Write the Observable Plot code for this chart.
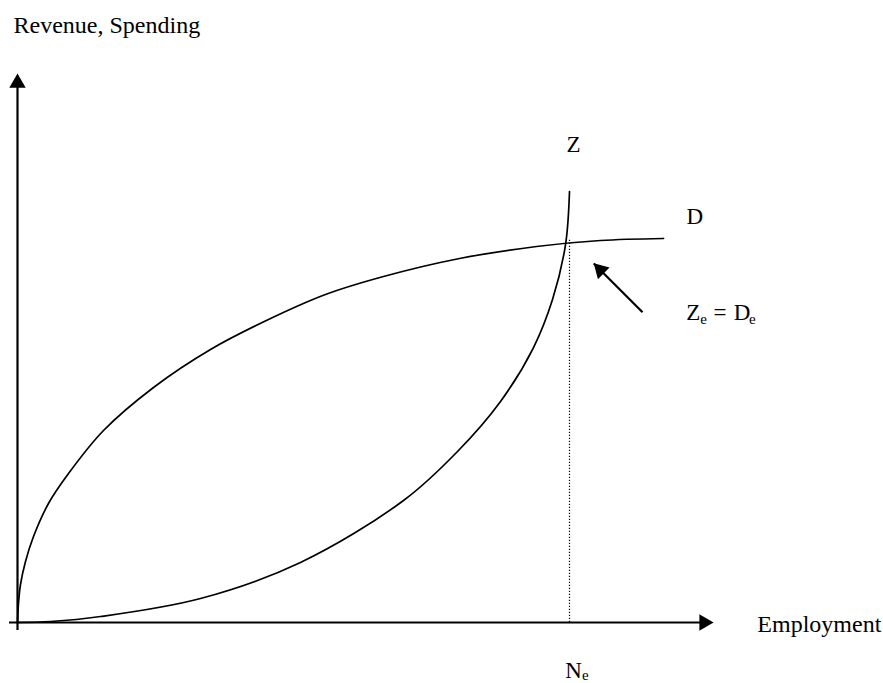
<!DOCTYPE html>
<html>
<head>
<meta charset="utf-8">
<script src="https://cdn.jsdelivr.net/npm/d3@7"></script>
<script src="https://cdn.jsdelivr.net/npm/@observablehq/plot@0.6"></script>
<style>
  html, body { margin: 0; padding: 0; background: #fff; }
  #chart svg { display: block; }
</style>
</head>
<body>
<div id="chart"></div>
<script>
// Aggregate demand curve D (employment, spending)
const dEmployment = [0, 0.14, 0.43, 1.15, 2.30, 4.45, 7.33, 12.36, 19.54, 27.73, 36.06, 44.25, 52.59, 63.51, 74.57, 83.76, 92.82];
const dSpending   = [0, 3.46, 6.92, 11.11, 15.66, 21.68, 27.14, 34.97, 42.81, 49.73, 55.19, 59.74, 63.02, 66.30, 68.49, 69.58, 69.95];

// Aggregate supply curve Z (employment, revenue)
const zEmployment = [0, 4.74, 11.93, 26.29, 40.66, 55.46, 63.22, 69.40, 74.14, 76.87, 78.74, 79.31];
const zRevenue    = [0, 0.18, 1.09, 4.37, 10.93, 22.22, 31.15, 40.26, 50.09, 58.83, 68.85, 78.51];

// Equilibrium employment N_e and the top of its guide line
const equilibriumN = [79.31];
const equilibriumTop = [69.95];

// Axis ends (arrow tips)
const axisMax = [100];

// Annotation arrow (tail -> tip)
const pointerTail = [89.8, 56.5];
const pointerTip  = [82.8, 65.4];

// Plain text labels
const labelText = ["Revenue, Spending", "Employment"];
const labelX    = [-0.57, 106.3];
const labelY    = [108.7, -0.42];

// Curve name labels
const curveText = ["Z", "D"];
const curveX    = [79.9, 97.3];
const curveY    = [87.0, 74.0];

// Labels with subscripts: main parts + subscripts
const subMainText = ["Z", "=", "D", "N"];
const subMainX    = [96.1, 100.0, 102.9, 78.7];
const subMainY    = [56.4, 56.4, 56.4, -8.8];
const subText     = ["e", "e", "e"];
const subX        = [98.1, 105.1, 81.1];
const subY        = [55.2, 55.2, -9.6];

const dData = dEmployment.map((x, i) => ({x, y: dSpending[i]}));
const zData = zEmployment.map((x, i) => ({x, y: zRevenue[i]}));
const labels = labelText.map((t, i) => ({t, x: labelX[i], y: labelY[i]}));
const curveLabels = curveText.map((t, i) => ({t, x: curveX[i], y: curveY[i]}));
const mains = subMainText.map((t, i) => ({t, x: subMainX[i], y: subMainY[i]}));
const subs = subText.map((t, i) => ({t, x: subX[i], y: subY[i]}));

const font = "'Liberation Serif', 'Times New Roman', serif";

const chart = Plot.plot({
  width: 883,
  height: 683,
  marginLeft: 17,
  marginRight: 170,
  marginTop: 73,
  marginBottom: 61,
  style: {fontFamily: font, background: "#fff", color: "#000", overflow: "visible"},
  x: {domain: [0, 100], axis: null},
  y: {domain: [0, 100], axis: null},
  marks: [
    // axes
    Plot.ruleY([0], {x1: 0, x2: axisMax[0], stroke: "#000", strokeWidth: 2.2, dx: -8}),
    Plot.ruleX([0], {y1: 0, y2: axisMax[0], stroke: "#000", strokeWidth: 2.2, dy: 8}),
    Plot.dot([{x: axisMax[0], y: 0}], {x: "x", y: "y", symbol: "triangle", r: 6.1, rotate: 90, dx: -9.4, fill: "#000", stroke: "none"}),
    Plot.dot([{x: 0, y: axisMax[0]}], {x: "x", y: "y", symbol: "triangle", r: 6.1, rotate: 0, dy: 9.4, fill: "#000", stroke: "none"}),
    // equilibrium guide
    Plot.ruleX(equilibriumN, {y1: 0, y2: equilibriumTop[0], stroke: "#000", strokeWidth: 1.2, strokeDasharray: "1.2,1.8"}),
    // curves
    Plot.line(dData, {x: "x", y: "y", curve: "catmull-rom", stroke: "#000", strokeWidth: 1.7}),
    Plot.line(zData, {x: "x", y: "y", curve: "catmull-rom", stroke: "#000", strokeWidth: 1.7}),
    // pointer arrow
    Plot.link([{x1: pointerTail[0], y1: pointerTail[1], x2: pointerTip[0], y2: pointerTip[1]}], {x1: "x1", y1: "y1", x2: "x2", y2: "y2", stroke: "#000", strokeWidth: 2.2}),
    Plot.dot([{x: pointerTip[0], y: pointerTip[1]}], {x: "x", y: "y", symbol: "triangle", r: 6.1, rotate: -45, dx: 6.6, dy: 6.6, fill: "#000", stroke: "none"}),
    // labels
    Plot.text(labels, {x: "x", y: "y", text: "t", textAnchor: "start", fontSize: 24, fill: "#000"}),
    Plot.text(curveLabels, {x: "x", y: "y", text: "t", textAnchor: "middle", fontSize: 23, fill: "#000"}),
    Plot.text(mains, {x: "x", y: "y", text: "t", textAnchor: "start", fontSize: 23, fill: "#000"}),
    Plot.text(subs, {x: "x", y: "y", text: "t", textAnchor: "start", fontSize: 15, fill: "#000"})
  ]
});
document.getElementById("chart").appendChild(chart);
</script>
</body>
</html>
